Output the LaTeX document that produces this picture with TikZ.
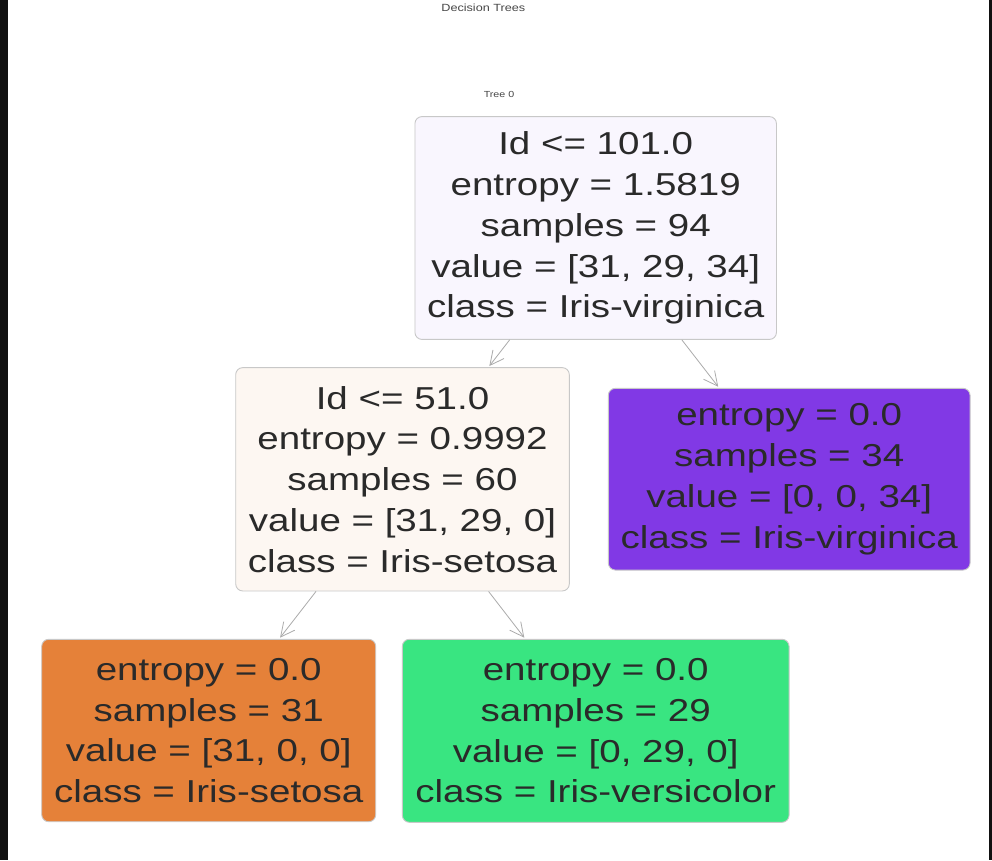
\documentclass[tikz,border=0pt]{standalone}
\usepackage{fontspec}
\setmainfont{Liberation Sans}
\newfontfamily\treefont[FakeStretch=1.215]{Liberation Sans}
\usetikzlibrary{arrows.meta}
\definecolor{rootfill}{HTML}{F9F6FE}
\definecolor{midfill}{HTML}{FDF7F2}
\definecolor{setosa}{HTML}{E58139}
\definecolor{versi}{HTML}{39E581}
\definecolor{virgi}{HTML}{8139E5}
\definecolor{boxline}{HTML}{C8C8C8}
\definecolor{edgegray}{HTML}{ABABAB}
\definecolor{txt}{HTML}{2A2A2A}
\definecolor{ttltxt}{HTML}{474747}
\definecolor{barcol}{HTML}{111111}
\begin{document}
\begin{tikzpicture}[x=1pt,y=-1pt,
  treebox/.style={draw=boxline, line width=0.9pt, rounded corners=7pt, align=center,
    text=txt, font={\treefont\fontsize{31.7}{40.8}\selectfont}, inner sep=0pt},
  edge/.style={draw=edgegray, line width=0.8pt, -{Straight Barb[length=14pt,width=14pt]}, shorten >=1.5pt},
  ttl/.style={text=ttltxt, inner sep=0pt, font={\treefont\fontsize{10.4}{12}\selectfont}},
  subttl/.style={text=ttltxt, inner sep=0pt, font={\treefont\fontsize{8.8}{10}\selectfont}}]
\useasboundingbox (0,0) rectangle (992,860);
\fill[white] (0,0) rectangle (992,860);
\fill[barcol] (0,0) rectangle (8,860);
\fill[barcol] (989,0) rectangle (992,860);

\node[ttl, anchor=base] (title) at (483.3,11.7) {Decision Trees};
\node[subttl, anchor=base] (tree0) at (499,97.7) {Tree 0};

\node[treebox, fill=rootfill, minimum width=361.5pt, minimum height=222.8pt] (root) at (595.7,228)
  {Id <= 101.0\\entropy = 1.5819\\samples = 94\\value = [31, 29, 34]\\class = Iris-virginica};
\node[treebox, fill=midfill, minimum width=333.6pt, minimum height=223.3pt] (mid) at (402.5,479.3)
  {Id <= 51.0\\entropy = 0.9992\\samples = 60\\value = [31, 29, 0]\\class = Iris-setosa};
\node[treebox, fill=virgi, minimum width=361.7pt, minimum height=181.7pt] (virg) at (789.2,479.2)
  {entropy = 0.0\\samples = 34\\value = [0, 0, 34]\\class = Iris-virginica};
\node[treebox, fill=setosa, minimum width=334pt, minimum height=182.4pt] (seto) at (208.7,730.5)
  {entropy = 0.0\\samples = 31\\value = [31, 0, 0]\\class = Iris-setosa};
\node[treebox, fill=versi, minimum width=386.7pt, minimum height=183pt] (vers) at (595.7,730.8)
  {entropy = 0.0\\samples = 29\\value = [0, 29, 0]\\class = Iris-versicolor};

\draw[edge] (root) -- (mid);
\draw[edge] (root) -- (virg);
\draw[edge] (mid) -- (seto);
\draw[edge] (mid) -- (vers);
\end{tikzpicture}
\end{document}
